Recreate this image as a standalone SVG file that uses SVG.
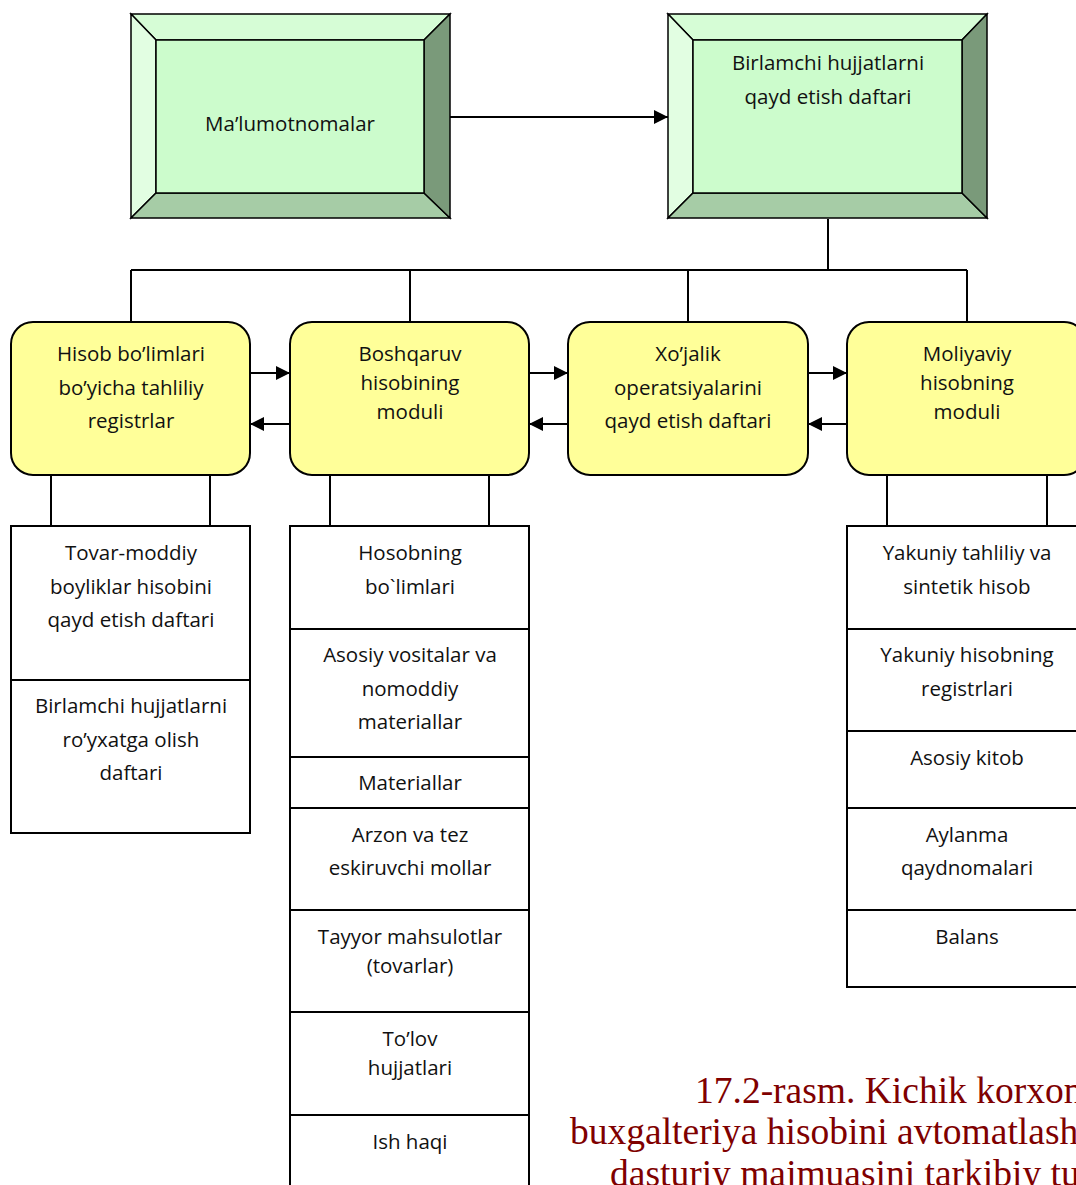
<svg xmlns="http://www.w3.org/2000/svg" width="1076" height="1185" viewBox="0 0 1076 1185">
<defs>
<marker id="ah" viewBox="0 0 14 14" refX="14" refY="7" markerWidth="14" markerHeight="14" markerUnits="userSpaceOnUse" orient="auto">
<path d="M0,0 L14,7 L0,14 Z" fill="#000"/>
</marker>
<style>
.t{font-family:"Open Sans","Noto Sans",sans-serif;font-size:20.5px;fill:#111;text-anchor:middle}
.cap{font-family:"Liberation Serif","Times New Roman",serif;font-size:37.5px;fill:#7f0000}
.bv{stroke:#000;stroke-width:1.5;stroke-linejoin:miter}
.yl{fill:#ffff99;stroke:#000;stroke-width:2}
.ls{fill:#fff;stroke:#000;stroke-width:2}
.ln{stroke:#000;stroke-width:2;fill:none}
.dv{stroke:#000;stroke-width:2}
</style>
</defs>
<rect width="1076" height="1185" fill="#fff"/>

<g id="connectors" class="ln">
<line x1="450" y1="117" x2="668" y2="117" marker-end="url(#ah)"/>
<line x1="828" y1="219" x2="828" y2="270"/>
<line x1="131" y1="270" x2="967" y2="270"/>
<line x1="131" y1="270" x2="131" y2="322"/>
<line x1="410" y1="270" x2="410" y2="322"/>
<line x1="688" y1="270" x2="688" y2="322"/>
<line x1="967" y1="270" x2="967" y2="322"/>
<line x1="250" y1="373" x2="290" y2="373" marker-end="url(#ah)"/>
<line x1="290" y1="424" x2="250" y2="424" marker-end="url(#ah)"/>
<line x1="529" y1="373" x2="568" y2="373" marker-end="url(#ah)"/>
<line x1="568" y1="424" x2="529" y2="424" marker-end="url(#ah)"/>
<line x1="808" y1="373" x2="847" y2="373" marker-end="url(#ah)"/>
<line x1="847" y1="424" x2="808" y2="424" marker-end="url(#ah)"/>
<line x1="51" y1="475" x2="51" y2="526"/>
<line x1="210" y1="475" x2="210" y2="526"/>
<line x1="330" y1="475" x2="330" y2="526"/>
<line x1="489" y1="475" x2="489" y2="526"/>
<line x1="887" y1="475" x2="887" y2="526"/>
<line x1="1047" y1="475" x2="1047" y2="526"/>
</g>

<g id="node-malumotnomalar">
<polygon class="bv" points="131,14 450,14 424,40 156,40" fill="#d6fdd6"/>
<polygon class="bv" points="131,14 156,40 156,193 131,218" fill="#e2fee2"/>
<polygon class="bv" points="131,218 156,193 424,193 450,218" fill="#a6cca6"/>
<polygon class="bv" points="450,14 450,218 424,193 424,40" fill="#7a9a7a"/>
<rect class="bv" x="156" y="40" width="268" height="153" fill="#ccfccc"/>
<text class="t" x="290" y="131">Ma’lumotnomalar</text>
</g>

<g id="node-birlamchi">
<polygon class="bv" points="668,14 987,14 962,40 693,40" fill="#d6fdd6"/>
<polygon class="bv" points="668,14 693,40 693,193 668,218" fill="#e2fee2"/>
<polygon class="bv" points="668,218 693,193 962,193 987,218" fill="#a6cca6"/>
<polygon class="bv" points="987,14 987,218 962,193 962,40" fill="#7a9a7a"/>
<rect class="bv" x="693" y="40" width="269" height="153" fill="#ccfccc"/>
<text class="t" x="828" y="70">Birlamchi hujjatlarni</text>
<text class="t" x="828" y="104">qayd etish daftari</text>
</g>

<g id="node-hisob-bolimlari">
<rect class="yl" x="11" y="322" width="239" height="153" rx="22"/>
<text class="t" x="131" y="361">Hisob bo’limlari</text>
<text class="t" x="131" y="395">bo’yicha tahliliy</text>
<text class="t" x="131" y="428">registrlar</text>
</g>

<g id="node-boshqaruv">
<rect class="yl" x="290" y="322" width="239" height="153" rx="22"/>
<text class="t" x="410" y="361">Boshqaruv</text>
<text class="t" x="410" y="390">hisobining</text>
<text class="t" x="410" y="419">moduli</text>
</g>

<g id="node-xojalik">
<rect class="yl" x="568" y="322" width="240" height="153" rx="22"/>
<text class="t" x="688" y="361">Xo’jalik</text>
<text class="t" x="688" y="395">operatsiyalarini</text>
<text class="t" x="688" y="428">qayd etish daftari</text>
</g>

<g id="node-moliyaviy">
<rect class="yl" x="847" y="322" width="239" height="153" rx="22"/>
<text class="t" x="967" y="361">Moliyaviy</text>
<text class="t" x="967" y="390">hisobning</text>
<text class="t" x="967" y="419">moduli</text>
</g>

<g id="list-a">
<rect class="ls" x="11" y="526" width="239" height="307"/>
<line class="dv" x1="11" y1="680" x2="250" y2="680"/>
<text class="t" x="131" y="560">Tovar-moddiy</text>
<text class="t" x="131" y="594">boyliklar hisobini</text>
<text class="t" x="131" y="627">qayd etish daftari</text>
<text class="t" x="131" y="713">Birlamchi hujjatlarni</text>
<text class="t" x="131" y="747">ro’yxatga olish</text>
<text class="t" x="131" y="780">daftari</text>
</g>

<g id="list-b">
<rect class="ls" x="290" y="526" width="239" height="670"/>
<line class="dv" x1="290" y1="629" x2="529" y2="629"/>
<line class="dv" x1="290" y1="757" x2="529" y2="757"/>
<line class="dv" x1="290" y1="808" x2="529" y2="808"/>
<line class="dv" x1="290" y1="910" x2="529" y2="910"/>
<line class="dv" x1="290" y1="1012" x2="529" y2="1012"/>
<line class="dv" x1="290" y1="1115" x2="529" y2="1115"/>
<text class="t" x="410" y="560">Hosobning</text>
<text class="t" x="410" y="594">bo`limlari</text>
<text class="t" x="410" y="662">Asosiy vositalar va</text>
<text class="t" x="410" y="696">nomoddiy</text>
<text class="t" x="410" y="729">materiallar</text>
<text class="t" x="410" y="790">Materiallar</text>
<text class="t" x="410" y="842">Arzon va tez</text>
<text class="t" x="410" y="875">eskiruvchi mollar</text>
<text class="t" x="410" y="944">Tayyor mahsulotlar</text>
<text class="t" x="410" y="973">(tovarlar)</text>
<text class="t" x="410" y="1046">To’lov</text>
<text class="t" x="410" y="1075">hujjatlari</text>
<text class="t" x="410" y="1149">Ish haqi</text>
</g>

<g id="list-d">
<rect class="ls" x="847" y="526" width="239" height="461"/>
<line class="dv" x1="847" y1="629" x2="1086" y2="629"/>
<line class="dv" x1="847" y1="731" x2="1086" y2="731"/>
<line class="dv" x1="847" y1="808" x2="1086" y2="808"/>
<line class="dv" x1="847" y1="910" x2="1086" y2="910"/>
<text class="t" x="967" y="560">Yakuniy tahliliy va</text>
<text class="t" x="967" y="594">sintetik hisob</text>
<text class="t" x="967" y="662">Yakuniy hisobning</text>
<text class="t" x="967" y="696">registrlari</text>
<text class="t" x="967" y="765">Asosiy kitob</text>
<text class="t" x="967" y="842">Aylanma</text>
<text class="t" x="967" y="875">qaydnomalari</text>
<text class="t" x="967" y="944">Balans</text>
</g>

<g id="caption">
<text class="cap" x="695" y="1103">17.2-rasm. Kichik korxon</text>
<text class="cap" x="570" y="1144">buxgalteriya hisobini avtomatlash</text>
<text class="cap" x="610" y="1186">dasturiy majmuasini tarkibiy tu</text>
</g>
</svg>
